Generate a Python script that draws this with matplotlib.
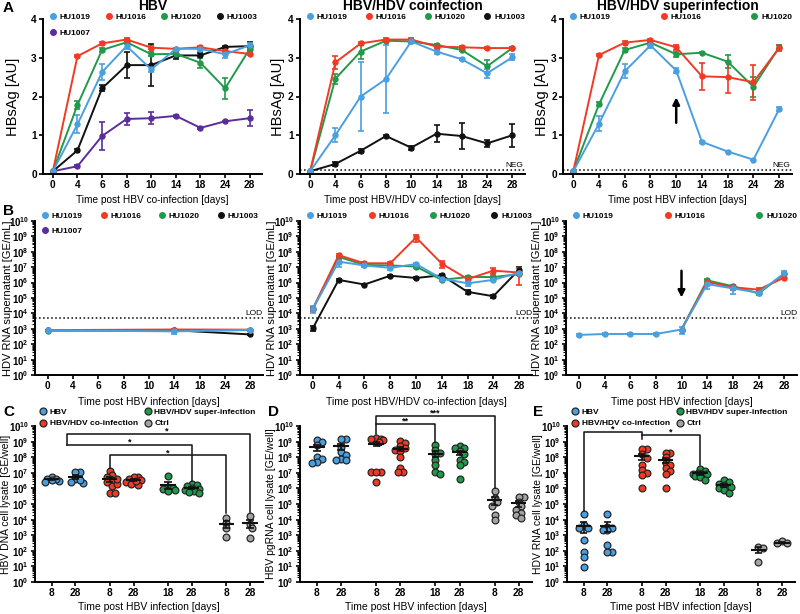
import numpy as np
import matplotlib
matplotlib.use("Agg")
import matplotlib.pyplot as plt
from matplotlib.lines import Line2D
from matplotlib.ticker import LogLocator, NullFormatter, FixedLocator

plt.rcParams['font.family'] = ['Liberation Sans', 'DejaVu Sans']
plt.rcParams['font.weight'] = 'bold'
plt.rcParams['mathtext.fontset'] = 'custom'
plt.rcParams['mathtext.rm'] = 'Liberation Sans:bold'
plt.rcParams['mathtext.it'] = 'Liberation Sans:bold'
plt.rcParams['mathtext.bf'] = 'Liberation Sans:bold'
plt.rcParams['axes.linewidth'] = 1.4

# colours of the donors / groups
col_1019 = '#4a9fe0'
col_1016 = '#f03a24'
col_1020 = '#1f9a4a'
col_1003 = '#111111'
col_1007 = '#5a2d9c'
col_ctrl = '#a3a3a3'

days = ['0', '4', '6', '8', '10', '14', '18', '24', '28']

# ---- A: HBsAg, HBV mono-infection
a1_1019 = [0.07, 1.28, 2.63, 3.30, 2.70, 3.23, 3.23, 3.09, 3.32]
a1_1019_err = [0.02, 0.23, 0.20, 0.08, 0.08, 0.03, 0.05, 0.10, 0.06]
a1_1016 = [0.07, 3.04, 3.37, 3.47, 3.26, 3.23, 3.27, 3.17, 3.10]
a1_1016_err = [0.02, 0.03, 0.03, 0.03, 0.04, 0.03, 0.03, 0.03, 0.03]
a1_1020 = [0.07, 1.78, 3.20, 3.40, 3.09, 3.10, 2.87, 2.21, 3.23]
a1_1020_err = [0.02, 0.10, 0.05, 0.04, 0.05, 0.03, 0.13, 0.27, 0.05]
a1_1003 = [0.07, 0.61, 2.21, 2.81, 2.81, 3.06, 3.06, 3.28, 3.30]
a1_1003_err = [0.02, 0.03, 0.08, 0.33, 0.55, 0.10, 0.05, 0.03, 0.10]
a1_1007 = [0.07, 0.20, 0.98, 1.42, 1.44, 1.50, 1.19, 1.36, 1.44]
a1_1007_err = [0.02, 0.03, 0.37, 0.15, 0.15, 0.02, 0.02, 0.02, 0.20]

# ---- A: HBsAg, HBV/HDV coinfection
a2_1019 = [0.07, 1.00, 2.00, 2.45, 3.42, 3.16, 2.96, 2.60, 3.01]
a2_1019_err = [0.02, 0.18, 0.90, 0.88, 0.03, 0.07, 0.03, 0.12, 0.08]
a2_1016 = [0.07, 2.88, 3.37, 3.47, 3.47, 3.29, 3.27, 3.25, 3.25]
a2_1016_err = [0.02, 0.16, 0.03, 0.03, 0.03, 0.04, 0.03, 0.03, 0.03]
a2_1020 = [0.07, 2.46, 3.16, 3.44, 3.42, 3.33, 3.20, 2.78, 3.25]
a2_1020_err = [0.02, 0.13, 0.20, 0.03, 0.03, 0.03, 0.03, 0.17, 0.03]
a2_1003 = [0.07, 0.26, 0.60, 0.98, 0.68, 1.04, 0.98, 0.79, 1.00]
a2_1003_err = [0.02, 0.05, 0.05, 0.03, 0.05, 0.22, 0.33, 0.10, 0.30]

# ---- A: HBsAg, HBV/HDV superinfection
a3_1019 = [0.07, 1.30, 2.65, 3.32, 2.67, 0.83, 0.58, 0.37, 1.67]
a3_1019_err = [0.02, 0.20, 0.18, 0.06, 0.06, 0.02, 0.02, 0.02, 0.05]
a3_1016 = [0.07, 3.07, 3.39, 3.46, 3.27, 2.52, 2.50, 2.37, 3.25]
a3_1016_err = [0.02, 0.02, 0.03, 0.03, 0.06, 0.35, 0.40, 0.45, 0.07]
a3_1020 = [0.07, 1.80, 3.20, 3.39, 3.09, 3.13, 2.90, 2.25, 3.27]
a3_1020_err = [0.02, 0.05, 0.04, 0.05, 0.07, 0.02, 0.17, 0.25, 0.05]

# ---- B: HDV RNA supernatant, HBV only (measured at 0, 14, 28)
b1_idx = [0, 5, 8]
b1_1019 = [800, 680, 850]
b1_1019_err = [80, 250, 80]
b1_1016 = [820, 900, 880]
b1_1020 = [760, 800, 820]
b1_1003 = [800, 800, 430]
b1_1003_err = [50, 50, 60]

# ---- B: HDV RNA supernatant, coinfection
b2_1019 = [2.0e4, 2.3e7, 1.3e7, 9e6, 1.6e7, 1.8e6, 9e5, 1.5e6, 4.5e6]
b2_1019_err = [1e4, 1.2e7, 2e6, 2e6, 2e6, 4e5, 3e5, 3e5, 1e6]
b2_1016 = [2.0e4, 6e7, 1.8e7, 1.8e7, 8.5e8, 1.7e7, 1.7e6, 6e6, 4.5e6]
b2_1016_err = [5e3, 1.5e7, 3e6, 3e6, 4e8, 8e6, 3e5, 2.5e6, 3.8e6]
b2_1020 = [2.0e4, 4.7e7, 1.4e7, 1.3e7, 1.1e7, 1.5e6, 2.3e6, 2.3e6, 3.5e6]
b2_1020_err = [5e3, 8e6, 2e6, 2e6, 2e6, 3e5, 4e5, 3e5, 6e5]
b2_1003 = [1.1e3, 1.5e6, 7.5e5, 2.8e6, 2.0e6, 3.0e6, 2.5e5, 1.3e5, 7e6]
b2_1003_err = [4e2, 2e5, 1e5, 4e5, 3e5, 8e5, 8e4, 3e4, 4e6]

# ---- B: HDV RNA supernatant, superinfection
b3_1019 = [400, 460, 460, 460, 900, 8e5, 4.2e5, 2.2e5, 4.0e6]
b3_1019_err = [80, 50, 40, 40, 450, 4e5, 2.5e5, 6e4, 1.5e6]
b3_idx_late = [4, 5, 6, 7, 8]
b3_1016 = [900, 1.1e6, 5.0e5, 3.5e5, 2.1e6]
b3_1016_err = [0, 3e5, 1.5e5, 8e4, 5e5]
b3_1020 = [900, 1.4e6, 5.8e5, 2.0e5, 3.5e6]
b3_1020_err = [0, 3e5, 1e5, 4e4, 6e5]

lod = 4.7e3
neg = 0.1

# ---- C-E: cell lysates, groups in order HBV8, HBV28, Co8, Co28, Sup18, Sup28, Ctrl8, Ctrl28
grp_labels = ['8', '28', '8', '28', '18', '28', '8', '28']
grp_pos = [0, 1, 2.45, 3.45, 4.9, 5.9, 7.35, 8.35]
grp_cols = [col_1019, col_1019, col_1016, col_1016, col_1020, col_1020, col_ctrl, col_ctrl]

c_hbv8 = [5.5e6, 4e6, 3.2e6, 4e6, 2.7e6, 3.5e6]
c_hbv28 = [1.1e7, 1.1e7, 4e6, 2.7e6, 2.3e6, 3.5e6]
c_co8 = [1.3e7, 7e6, 5e6, 3.5e6, 2.5e6, 1.4e6, 5.2e5, 5e5, 2e6, 4e6]
c_co28 = [5e6, 5e6, 4e6, 3.5e6, 2.7e6, 2e6, 1.6e6, 3e6]
c_sup18 = [6e6, 1.2e6, 1e6, 9e5, 8e5, 7e5]
c_sup28 = [2e6, 1.6e6, 1.4e6, 1.1e6, 9e5, 8e5, 7e5, 6e5, 5e5]
c_ctrl8 = [1.3e4, 6e3, 2.7e3, 7.7e2]
c_ctrl28 = [1.7e4, 5e3, 2.7e3, 7e2]

d_hbv8 = [1.2e9, 1e9, 6e8, 1.1e8, 8e7, 5e7, 4.5e7]
d_hbv28 = [1.5e9, 1.5e9, 4.5e8, 2.2e8, 1.4e8, 8e7, 6.5e7, 6.5e7]
d_co8 = [1.6e9, 1.5e9, 1.4e9, 1.2e9, 1e9, 1.1e7, 1.1e7, 1.1e7, 2.7e6]
d_co28 = [1.1e9, 8e8, 5e8, 4e8, 3e8, 2.5e8, 1e8, 2e7, 1.1e7, 1.1e7]
d_sup18 = [6e8, 3e8, 2e8, 1.5e8, 7e7, 3e7, 1.1e7, 8e6]
d_sup28 = [5e8, 4e8, 4e8, 2.5e8, 1.5e8, 7e7, 5e7, 3e7, 4e6]
d_ctrl8 = [6.6e5, 2.5e5, 1.3e5, 8e4, 2e4, 1e4]
d_ctrl28 = [3e5, 3e5, 1.3e5, 7e4, 4e4, 2.5e4, 2e4, 1.2e4]

e_hbv8 = [2.2e4, 4.5e3, 2.8e3, 2.8e3, 4.9e2, 8.6e1, 4.1e1, 9.3]
e_hbv28 = [2.2e4, 3.5e3, 2.8e3, 2.3e3, 2.3e3, 2.3e2, 8.6e1, 8.6e1]
e_co8 = [3.5e8, 3.5e8, 1.5e8, 9e7, 3.4e7, 1.6e7, 1e7, 7.6e6, 1.1e6]
e_co28 = [2e8, 2e8, 1e8, 4e7, 3.4e7, 2e7, 1.3e7, 8e6, 1.1e6]
e_sup18 = [1.8e7, 1.4e7, 1e7, 9e6, 8e6, 8e6, 6e6, 5e6, 3.5e6]
e_sup28 = [3.5e6, 2.5e6, 2e6, 1.6e6, 1.3e6, 1e6, 8e5, 5e5]
e_ctrl8 = [1.8e2, 1.6e2, 2e1]
e_ctrl28 = [4e2, 3e2, 3e2]

grp_names = ['HBV', 'HBV/HDV co-infection', 'HBV/HDV super-infection', 'Ctrl']


def rect(x0, x1, ytop, ybot):
    return [x0 / 800, 1 - ybot / 614, (x1 - x0) / 800, (ybot - ytop) / 614]


def base_style(ax):
    ax.spines['top'].set_visible(False)
    ax.spines['right'].set_visible(False)
    ax.tick_params(direction='out', length=3, width=1.2, labelsize=7.3, pad=1.5)


def line_axes(ax, xlim):
    base_style(ax)
    ax.set_xticks(range(len(days)))
    ax.set_xticklabels(days)
    ax.set_xlim(*xlim)


def log_axes(ax):
    ax.set_yscale('log')
    ax.set_ylim(1, 1e10)
    ax.yaxis.set_major_locator(FixedLocator([10.0 ** k for k in range(11)]))
    ax.set_yticklabels([r'$10^{%d}$' % k for k in range(11)])
    ax.yaxis.set_minor_locator(LogLocator(base=10, subs=np.arange(2, 10), numticks=100))
    ax.yaxis.set_minor_formatter(NullFormatter())
    ax.tick_params(axis='y', which='minor', length=2, width=0.8)
    ax.tick_params(axis='y', which='major', labelsize=7)


def series(ax, x, y, err, color, z=2):
    ax.errorbar(x, y, yerr=err, color=color, marker='o', markersize=3.6, lw=1.4,
                elinewidth=1.2, capsize=2.2, capthick=1.2, zorder=z, clip_on=False)


def donor_legend(ax, names, colors, ncol, anchor, spacing=0.55):
    handles = [Line2D([], [], marker='o', ls='', color=c, markersize=4) for c in colors]
    ax.legend(handles, names, ncol=ncol, loc='upper left', bbox_to_anchor=anchor,
              mode='expand', frameon=False, fontsize=6, handletextpad=0.4,
              handlelength=0.8, borderaxespad=0, borderpad=0, labelspacing=spacing)


def swarm(vals, step=0.1, maxo=0.3):
    # simple beeswarm: spread points with similar values sideways
    lv = np.log10(vals)
    offs = np.zeros(len(vals))
    cands = [0.0]
    k = 1
    while k * step <= maxo + 1e-9:
        cands += [k * step, -k * step]
        k += 1
    placed = []
    for i in np.argsort(lv)[::-1]:
        best, bestd = 0.0, -1
        for o in cands:
            d = min([((o - po) / 0.19) ** 2 + ((lv[i] - pl) / 0.3) ** 2 for po, pl in placed], default=9)
            if d >= 1:
                best = o
                break
            if d > bestd:
                best, bestd = o, d
        offs[i] = best
        placed.append((best, lv[i]))
    return offs


def groups(ax, data):
    for v, p, c in zip(data, grp_pos, grp_cols):
        v = np.array(v)
        ax.scatter(p + swarm(v), v, s=24, c=c, edgecolors='#262626', linewidths=0.9,
                   zorder=3, clip_on=False)
        m = v.mean()
        se = v.std(ddof=1) / np.sqrt(len(v))
        ax.hlines(m, p - 0.32, p + 0.32, color='#111111', lw=1.5, zorder=4)
        ax.vlines(p, m - se, m + se, color='#111111', lw=1.2, zorder=4)
        ax.hlines([m - se, m + se], p - 0.15, p + 0.15, color='#111111', lw=1.2, zorder=4)
    base_style(ax)
    ax.set_xticks(grp_pos)
    ax.set_xticklabels(grp_labels)
    ax.set_xlim(-0.7, 8.9)
    log_axes(ax)


def bracket(ax, x1, x2, y, y1, y2, txt, tx=None):
    ax.plot([x1, x1, x2, x2], [y1, y, y, y2], color='#111111', lw=1.1, clip_on=False, zorder=5)
    ax.text((x1 + x2) / 2 if tx is None else tx, y * 1.05, txt, ha='center', va='baseline',
            fontsize=6.5, clip_on=False)


def group_legend(ax, anchor):
    handles = [Line2D([], [], marker='o', ls='', mfc=c, mec='#262626', mew=0.9, markersize=5)
               for c in [col_1019, col_1016, col_1020, col_ctrl]]
    ax.legend(handles, grp_names, ncol=2, loc='upper left', bbox_to_anchor=anchor,
              frameon=False, fontsize=6, handletextpad=0.4, handlelength=0.8,
              borderaxespad=0, borderpad=0, labelspacing=0.45, columnspacing=0.8)


fig = plt.figure(figsize=(8, 6.14), dpi=100)

xl_a = 'Time post HBV co-infection [days]'
xl_b = 'Time post HBV infection [days]'

# ===== Row A
axA1 = fig.add_axes(rect(43, 262, 19, 174))
axA2 = fig.add_axes(rect(300, 525, 19, 174))
axA3 = fig.add_axes(rect(563, 792, 19, 174))
x = np.arange(len(days))

series(axA1, x, a1_1007, a1_1007_err, col_1007)
series(axA1, x, a1_1003, a1_1003_err, col_1003)
series(axA1, x, a1_1020, a1_1020_err, col_1020)
series(axA1, x, a1_1016, a1_1016_err, col_1016)
series(axA1, x, a1_1019, a1_1019_err, col_1019)
donor_legend(axA1, ['HU1019', 'HU1007', 'HU1016', 'HU1020', 'HU1003'],
             [col_1019, col_1007, col_1016, col_1020, col_1003], 4, (0.03, 1.035, 0.95, 0), 0.9)

series(axA2, x, a2_1003, a2_1003_err, col_1003)
series(axA2, x, a2_1020, a2_1020_err, col_1020)
series(axA2, x, a2_1016, a2_1016_err, col_1016)
series(axA2, x, a2_1019, a2_1019_err, col_1019)
donor_legend(axA2, ['HU1019', 'HU1016', 'HU1020', 'HU1003'],
             [col_1019, col_1016, col_1020, col_1003], 4, (0.03, 1.035, 0.97, 0))

series(axA3, x, a3_1020, a3_1020_err, col_1020)
series(axA3, x, a3_1016, a3_1016_err, col_1016)
series(axA3, x, a3_1019, a3_1019_err, col_1019)
donor_legend(axA3, ['HU1019', 'HU1016', 'HU1020'],
             [col_1019, col_1016, col_1020], 3, (0.03, 1.035, 0.97, 0))
axA3.annotate('', xy=(4, 2.05), xytext=(4, 1.25),
              arrowprops=dict(arrowstyle='-|>', color='k', lw=1.8, mutation_scale=10))

for ax, title, xl in [(axA1, 'HBV', xl_a), (axA2, 'HBV/HDV coinfection', 'Time post HBV/HDV co-infection [days]'),
                      (axA3, 'HBV/HDV superinfection', xl_b)]:
    line_axes(ax, (-0.4, 8.5))
    ax.set_ylim(0, 4)
    ax.set_yticks([0, 1, 2, 3, 4])
    # title sits above the legend row
    ax.text(0.5, 1.085, title, transform=ax.transAxes, ha='center', va='center',
            fontsize=10, fontweight='bold')
    ax.set_xlabel(xl, fontsize=7.3)
    ax.set_ylabel('HBsAg [AU]', fontsize=10.5)
    ax.xaxis.set_label_coords(0.5, -0.135)
for ax in (axA2, axA3):
    ax.axhline(neg, color='k', ls=':', lw=1.1, zorder=1)
    ax.text(8.45, neg + 0.03, 'NEG', ha='right', va='bottom', fontsize=6, fontweight='normal')
axA1.yaxis.set_label_coords(-0.105, 0.5)
axA2.yaxis.set_label_coords(-0.067, 0.5)
axA3.yaxis.set_label_coords(-0.061, 0.5)

# ===== Row B
axB1 = fig.add_axes(rect(35, 263, 221, 375))
axB2 = fig.add_axes(rect(300, 532, 221, 375))
axB3 = fig.add_axes(rect(566, 797, 221, 375))

series(axB1, b1_idx, b1_1003, b1_1003_err, col_1003)
series(axB1, b1_idx, b1_1020, None, col_1020)
series(axB1, b1_idx, b1_1016, None, col_1016)
series(axB1, b1_idx, b1_1019, b1_1019_err, col_1019)
donor_legend(axB1, ['HU1019', 'HU1007', 'HU1016', 'HU1020', 'HU1003'],
             [col_1019, col_1007, col_1016, col_1020, col_1003], 4, (0.03, 1.06, 0.95, 0), 0.9)

series(axB2, x, b2_1003, b2_1003_err, col_1003)
series(axB2, x, b2_1020, b2_1020_err, col_1020)
series(axB2, x, b2_1016, b2_1016_err, col_1016)
series(axB2, x, b2_1019, b2_1019_err, col_1019)
donor_legend(axB2, ['HU1019', 'HU1016', 'HU1020', 'HU1003'],
             [col_1019, col_1016, col_1020, col_1003], 4, (0.03, 1.06, 0.97, 0))

series(axB3, b3_idx_late, b3_1020, b3_1020_err, col_1020)
series(axB3, b3_idx_late, b3_1016, b3_1016_err, col_1016)
series(axB3, x, b3_1019, b3_1019_err, col_1019)
donor_legend(axB3, ['HU1019', 'HU1016', 'HU1020'],
             [col_1019, col_1016, col_1020], 3, (0.03, 1.06, 0.97, 0))
axB3.annotate('', xy=(4, 10 ** 4.85), xytext=(4, 10 ** 6.95),
              arrowprops=dict(arrowstyle='-|>', color='k', lw=1.8, mutation_scale=10))

for ax, xl, ylx in [(axB1, xl_b, -0.098), (axB2, 'Time post HBV/HDV co-infection [days]', -0.098),
                    (axB3, xl_b, -0.102)]:
    line_axes(ax, (-0.5, 8.5))
    log_axes(ax)
    ax.axhline(lod, color='k', ls=':', lw=1.1, zorder=1)
    ax.text(8.5, lod * 1.25, 'LOD', ha='right', va='bottom', fontsize=6, fontweight='normal')
    ax.set_xlabel(xl, fontsize=7.5)
    ax.set_ylabel('HDV RNA supernatant [GE/mL]', fontsize=8)
    ax.xaxis.set_label_coords(0.5, -0.143)
    ax.yaxis.set_label_coords(ylx, 0.5)

# ===== Row C-E
axC = fig.add_axes(rect(35, 263, 426, 582))
axD = fig.add_axes(rect(300, 532, 426, 582))
axE = fig.add_axes(rect(567, 795, 426, 582))

groups(axC, [c_hbv8, c_hbv28, c_co8, c_co28, c_sup18, c_sup28, c_ctrl8, c_ctrl28])
groups(axD, [d_hbv8, d_hbv28, d_co8, d_co28, d_sup18, d_sup28, d_ctrl8, d_ctrl28])
groups(axE, [e_hbv8, e_hbv28, e_co8, e_co28, e_sup18, e_sup28, e_ctrl8, e_ctrl28])

axC.set_ylabel('HBV DNA cell lysate [GE/well]', fontsize=7.5)
axD.set_ylabel('HBV pgRNA cell lysate [GE/well]', fontsize=7.5)
axE.set_ylabel('HDV RNA cell lysate [GE/well]', fontsize=7.5)
for ax in (axC, axD, axE):
    ax.set_xlabel(xl_b, fontsize=7.5)
    ax.xaxis.set_label_coords(0.5, -0.128)
    ax.yaxis.set_label_coords(-0.104, 0.5)

group_legend(axC, (0.02, 1.115))
group_legend(axE, (0.02, 1.115))

bracket(axC, 0.65, 8.35, 3e9, 6e8, 3e4, '*', tx=4.86)
bracket(axC, 0.65, 5.9, 6e8, 6e8, 3e6, '*')
bracket(axC, 2.45, 7.35, 1.3e8, 2e7, 2.5e4, '*')

bracket(axD, 2.45, 7.35, 4.5e10, 3e9, 1e6, '***')
bracket(axD, 2.45, 4.9, 1.3e10, 1.3e10, 1e9, '**')

bracket(axE, 0, 2.45, 4e9, 3.5e4, 1.5e9, '*')
bracket(axE, 2.45, 4.9, 2.8e9, 2.8e9, 3e7, '*')

# panel letters
for lx, ly, letter in [(3, 8, 'A'), (3, 211, 'B'), (3, 412, 'C'), (268, 412, 'D'), (533, 412, 'E')]:
    fig.text(lx / 800, 1 - ly / 614, letter, fontsize=11, fontweight='bold', va='center', ha='left')

fig.savefig('out.png', dpi=100)
